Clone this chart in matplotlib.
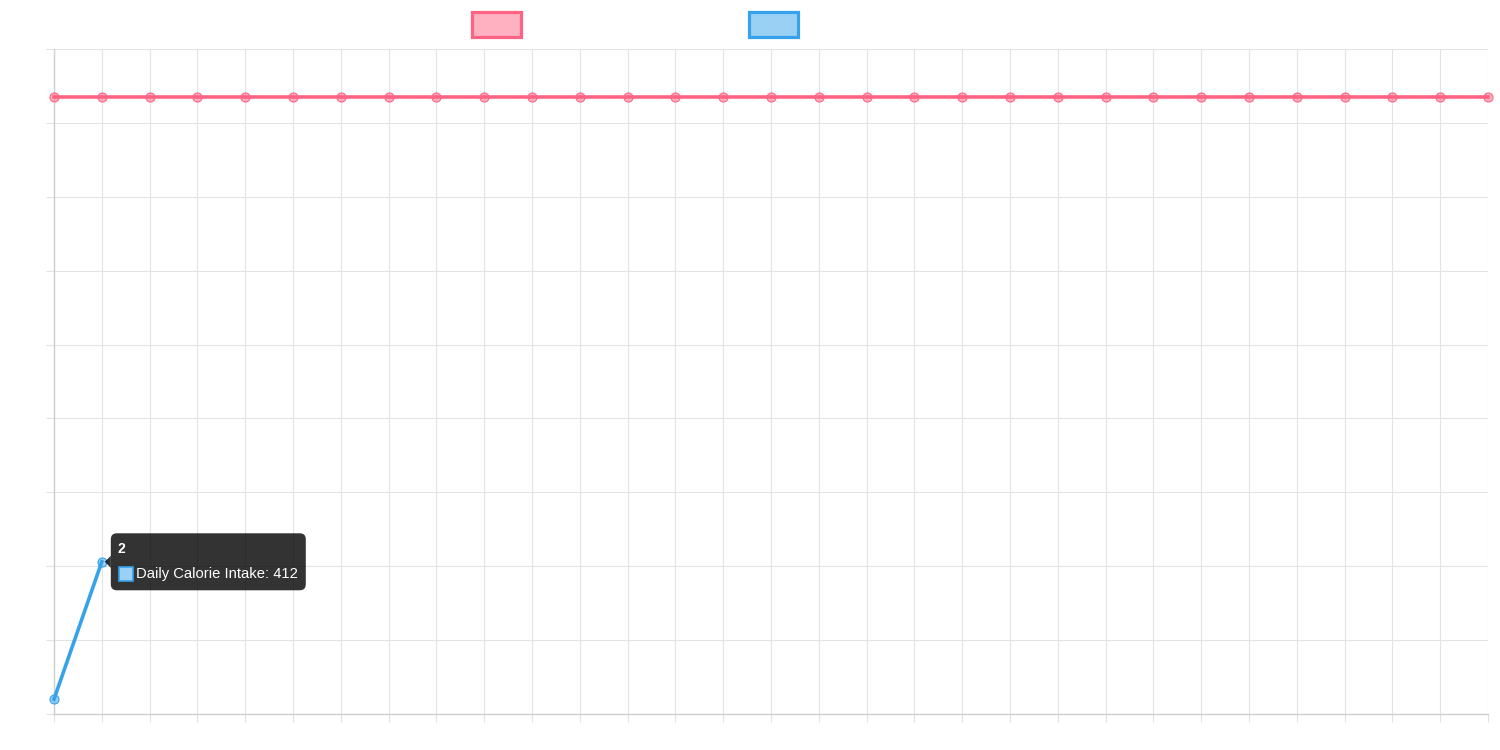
import matplotlib
matplotlib.use("Agg")
import matplotlib.pyplot as plt
from matplotlib.patches import Rectangle, FancyBboxPatch, Polygon

plt.rcParams['font.family'] = ['Liberation Sans', 'DejaVu Sans']

days = list(range(1, 32))
target = [1670] * 31
intake_days = [1, 2]
intake = [40, 412]
y_ticks = list(range(0, 1801, 200))

red = '#ff6384'
red_fill = (1.0, 0.388, 0.518, 0.5)
blue = '#36a2eb'
blue_fill = (0.212, 0.635, 0.922, 0.5)
grid_c = '#e3e3e3'
axis_c = '#cfcfcf'

fig = plt.figure(figsize=(15, 7.5), dpi=100)
ax = fig.add_axes([54 / 1500, 36 / 750, (1488 - 54) / 1500, (714 - 49) / 750])

ax.plot(days, target, color=red, lw=2.6, marker='o', ms=6.5,
        mfc=red_fill, mec=red, mew=0.8, zorder=3, clip_on=False)
ax.plot(intake_days, intake, color=blue, lw=2.6, marker='o', ms=6.5,
        mfc=blue_fill, mec=blue, mew=0.8, zorder=3, clip_on=False)

ax.set_xlim(1, 31)
ax.set_ylim(0, 1800)
ax.set_xticks(days)
ax.set_yticks(y_ticks)
ax.set_xticklabels([])
ax.set_yticklabels([])
ax.tick_params(length=6, width=0.8, color=grid_c)
ax.grid(True, color=grid_c, lw=0.8)
ax.set_axisbelow(True)
for s in ['top', 'right']:
    ax.spines[s].set_visible(False)
for s in ['left', 'bottom']:
    ax.spines[s].set_color(axis_c)
    ax.spines[s].set_linewidth(1.0)

# legend boxes (no labels shown)
for x0, fc, ec in [(472, red_fill, red), (749, blue_fill, blue)]:
    fig.patches.append(Rectangle((x0, 750 - 37), 49, 25, transform=None,
                                 facecolor=fc, edgecolor=ec, lw=2.3))

# tooltip on the second intake point
px, py = ax.transData.transform((intake_days[1], intake[1]))
bx, bw, bh = px + 9, 195, 57
by = py - bh / 2
fig.patches.append(FancyBboxPatch((bx, by), bw, bh, transform=None,
                                  boxstyle='round,pad=0,rounding_size=6',
                                  facecolor=(0, 0, 0, 0.8), edgecolor='none', zorder=10))
fig.patches.append(Polygon([(px + 3, py), (bx, py + 6), (bx, py - 6)], closed=True,
                           transform=None, facecolor=(0, 0, 0, 0.8), edgecolor='none', zorder=10))
fig.text((bx + 7) / 1500, (by + bh - 16) / 750, str(intake_days[1]), color='white',
         fontsize=10, fontweight='bold', va='center', ha='left', zorder=11)
fig.patches.append(Rectangle((bx + 8, by + 9), 14, 14, transform=None,
                             facecolor='#9ad0f5', edgecolor=blue, lw=1.2, zorder=11))
fig.text((bx + 25) / 1500, (by + 16) / 750, 'Daily Calorie Intake: %d' % intake[1],
         color='white', fontsize=10.6, va='center', ha='left', zorder=11)

fig.savefig('out.png', dpi=100, facecolor='white')
